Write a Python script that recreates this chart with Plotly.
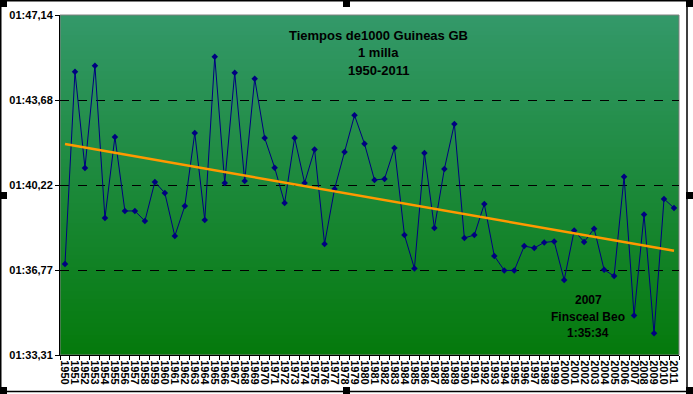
import numpy as np
import plotly.graph_objects as go

years = [str(y) for y in range(1950, 2012)]
# winning times in seconds (1 mile)
times = [
    97.01, 104.83, 100.92, 105.08, 98.88, 102.18, 99.17, 99.17, 98.76, 100.35,
    99.90, 98.15, 99.37, 102.34, 98.80, 105.44, 100.31, 104.79, 100.39, 104.55,
    102.14, 100.93, 99.49, 102.14, 100.31, 101.67, 97.83, 100.06, 101.57, 103.06,
    101.90, 100.43, 100.47, 101.73, 98.19, 96.83, 101.53, 98.48, 100.88, 102.71,
    98.07, 98.19, 99.45, 97.34, 96.75, 96.75, 97.74, 97.66, 97.89, 97.93,
    96.36, 98.37, 97.91, 98.45, 96.78, 96.52, 100.56, 94.92, 99.02, 94.19,
    99.66, 99.29,
]
y_tickvals = [93.31, 96.7675, 100.225, 103.6825, 107.14]
y_ticktext = ["01:33,31", "01:36,77", "01:40,22", "01:43,68", "01:47,14"]

title_lines = ["Tiempos de1000 Guineas GB", "1 milla", "1950-2011"]
note_lines = ["2007", "Finsceal Beo", "1:35:34"]

# linear trendline (like Excel)
idx = np.arange(len(times))
slope, intercept = np.polyfit(idx, times, 1)
trend = slope * idx + intercept

W, H = 693, 394
L, R, T, B = 60, 679, 15, 355

def px(x):
    return (x - L) / (R - L)

def py(y):
    return (B - y) / (B - T)

fig = go.Figure()
fig.add_trace(go.Scatter(
    x=years, y=times, mode="lines+markers",
    line=dict(color="#000080", width=1),
    marker=dict(symbol="diamond", size=5, color="#000080"),
    showlegend=False, hoverinfo="x+y",
))
fig.add_trace(go.Scatter(
    x=years, y=trend, mode="lines",
    line=dict(color="#FF9900", width=2.5),
    showlegend=False, hoverinfo="skip",
))

shapes = []
# gradient background
top_c = np.array([52, 153, 106])
bot_c = np.array([5, 122, 12])
n = 85
for i in range(n):
    f = (i + 0.5) / n
    c = top_c * (1 - f) + bot_c * f
    shapes.append(dict(type="rect", xref="paper", yref="paper",
                       x0=0, x1=1, y0=max(0, 1 - (i + 1) / n - 0.002), y1=1 - i / n,
                       fillcolor="rgb(%d,%d,%d)" % tuple(c.astype(int)),
                       line=dict(width=0), layer="below"))
# plot area grey border
shapes.append(dict(type="rect", xref="paper", yref="paper", x0=0, x1=1, y0=0, y1=1,
                   line=dict(color="#808080", width=1), layer="below"))
# outer chart frame
shapes.append(dict(type="rect", xref="paper", yref="paper",
                   x0=px(0.75), x1=px(687), y0=py(0.75), y1=py(391.5),
                   line=dict(color="black", width=1.5), layer="above"))
# selection handles
for hx, hy in [(0, 0), (343, 0), (686, 0), (0, 192), (686, 192),
               (0, 387), (343, 387), (686, 387)]:
    shapes.append(dict(type="rect", xref="paper", yref="paper",
                       x0=px(hx), x1=px(hx + 7), y0=py(hy), y1=py(hy + 7),
                       fillcolor="black", line=dict(width=0), layer="above"))

annotations = []
for i, t in enumerate(title_lines):
    annotations.append(dict(text="<b>%s</b>" % t, x=px(378), y=py(35 + 17.5 * i),
                            xref="paper", yref="paper", showarrow=False,
                            xanchor="center", yanchor="middle",
                            font=dict(family="Liberation Sans, Arial", size=13, color="black")))
for i, t in enumerate(note_lines):
    annotations.append(dict(text="<b>%s</b>" % t, x=px(588), y=py(300 + 16.5 * i),
                            xref="paper", yref="paper", showarrow=False,
                            xanchor="center", yanchor="middle",
                            font=dict(family="Liberation Sans, Arial", size=12, color="black")))

fig.update_layout(
    width=W, height=H,
    margin=dict(l=L, r=W - R, t=T, b=H - B, pad=0, autoexpand=False),
    paper_bgcolor="white", plot_bgcolor="rgba(0,0,0,0)",
    shapes=shapes, annotations=annotations,
    xaxis=dict(type="category", categoryorder="array", categoryarray=years,
               tickmode="linear", dtick=1, automargin=False,
               tickangle=90, ticks="outside", tickson="boundaries", ticklen=4,
               ticklabelstandoff=2,
               tickcolor="black", showline=True, linecolor="black", linewidth=1,
               showgrid=False, zeroline=False, range=[-0.5, len(years) - 0.5],
               tickfont=dict(family="Liberation Sans, Arial", size=11, color="black", weight="bold")),
    yaxis=dict(range=[93.31, 107.14], tickvals=y_tickvals, ticktext=y_ticktext,
               automargin=False,
               ticks="outside", ticklen=4, tickcolor="black",
               showline=True, linecolor="black", linewidth=1,
               showgrid=True, gridcolor="black", griddash="dash", gridwidth=1,
               zeroline=False,
               tickfont=dict(family="Liberation Sans, Arial", size=11, color="black", weight="bold")),
)

fig.write_html("out.html", config={"displayModeBar": False},
               post_script="document.body.style.margin='0';")
